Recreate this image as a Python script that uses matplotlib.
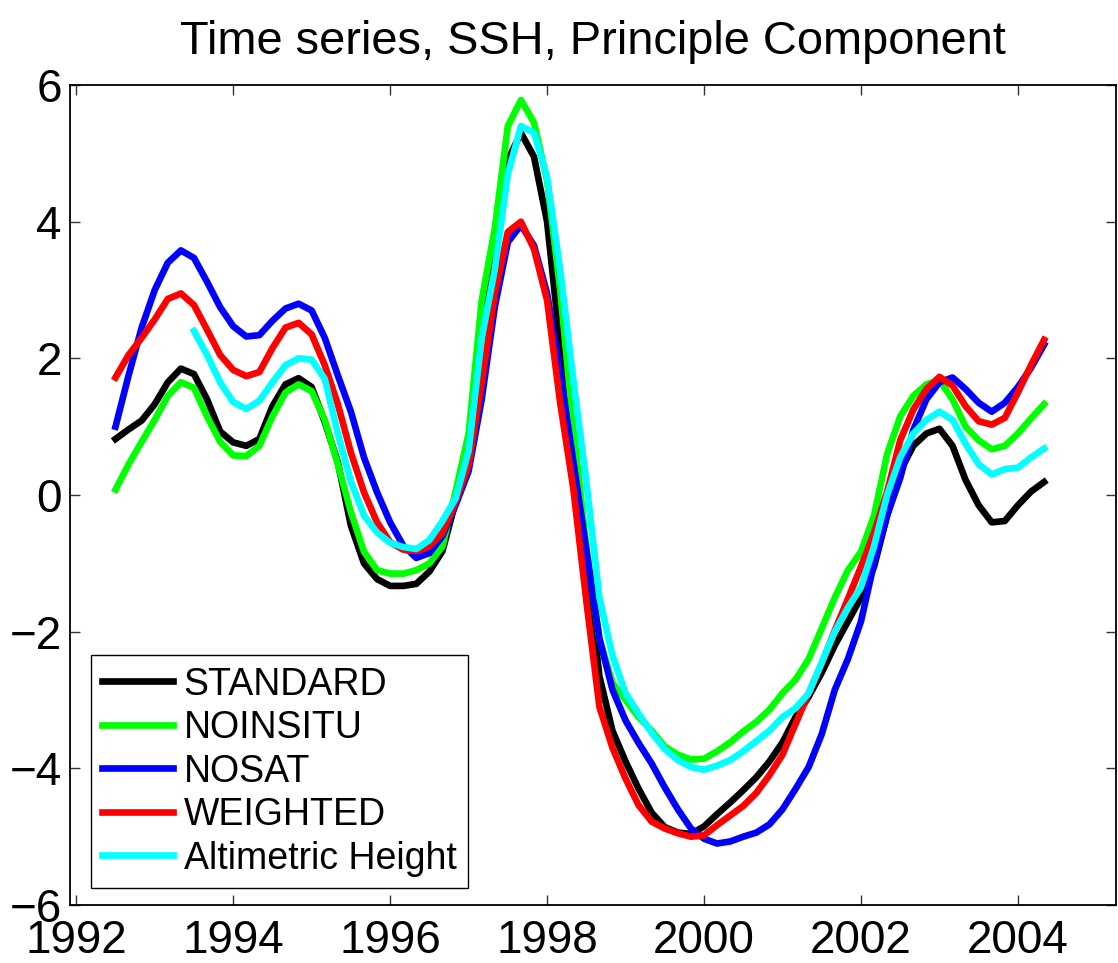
import numpy as np
import matplotlib
matplotlib.use("Agg")
import matplotlib.pyplot as plt

# time axis: two-month steps from mid 1992 to spring 2004
years = 1992.5 + np.arange(72) / 6.0

standard = [0.82, 0.96, 1.09, 1.33, 1.65, 1.85, 1.77, 1.40, 0.93, 0.77, 0.72, 0.82,
            1.30, 1.62, 1.71, 1.58, 1.07, 0.48, -0.45, -1.0, -1.23, -1.33, -1.33, -1.30,
            -1.12, -0.82, -0.1, 0.7, 2.5, 3.6, 4.9, 5.3, 4.95, 4.0, 2.2, 0.7,
            -0.97, -2.65, -3.45, -3.9, -4.3, -4.65, -4.86, -4.94, -4.96, -4.85, -4.67, -4.5,
            -4.32, -4.13, -3.9, -3.62, -3.25, -2.95, -2.6, -2.2, -1.85, -1.5, -1.05, -0.3,
            0.35, 0.72, 0.9, 0.97, 0.72, 0.22, -0.15, -0.4, -0.38, -0.15, 0.05, 0.19]

noinsitu = [0.08, 0.45, 0.78, 1.1, 1.45, 1.65, 1.57, 1.15, 0.78, 0.58, 0.57, 0.72,
            1.15, 1.5, 1.62, 1.52, 1.1, 0.45, -0.25, -0.83, -1.1, -1.15, -1.15, -1.1,
            -1.0, -0.75, 0.05, 0.9, 2.85, 3.9, 5.4, 5.78, 5.45, 4.6, 3.0, 1.0,
            -0.75, -2.1, -2.75, -3.0, -3.25, -3.45, -3.68, -3.8, -3.87, -3.86, -3.75, -3.62,
            -3.46, -3.32, -3.14, -2.9, -2.7, -2.4, -1.95, -1.5, -1.1, -0.83, -0.3, 0.6,
            1.15, 1.45, 1.62, 1.68, 1.4, 1.0, 0.8, 0.67, 0.72, 0.9, 1.12, 1.33]

nosat = [1.0, 1.75, 2.45, 3.0, 3.4, 3.58, 3.47, 3.12, 2.75, 2.47, 2.32, 2.34,
         2.55, 2.73, 2.8, 2.7, 2.3, 1.75, 1.22, 0.55, 0.04, -0.4, -0.74, -0.92,
         -0.85, -0.6, -0.15, 0.35, 1.4, 2.75, 3.7, 3.95, 3.65, 2.95, 1.8, 0.5,
         -0.8, -2.1, -2.85, -3.3, -3.63, -3.93, -4.28, -4.6, -4.88, -5.03, -5.1, -5.07,
         -5.0, -4.94, -4.82, -4.6, -4.3, -3.98, -3.5, -2.85, -2.4, -1.85, -1.0, -0.3,
         0.25, 0.95, 1.4, 1.65, 1.72, 1.55, 1.35, 1.22, 1.35, 1.58, 1.86, 2.2]

weighted = [1.72, 2.05, 2.3, 2.57, 2.87, 2.95, 2.78, 2.42, 2.05, 1.83, 1.74, 1.8,
            2.15, 2.45, 2.52, 2.35, 1.9, 1.33, 0.62, 0.04, -0.4, -0.69, -0.8, -0.82,
            -0.75, -0.55, -0.1, 0.45, 1.65, 2.95, 3.85, 4.0, 3.6, 2.85, 1.35, 0.1,
            -1.55, -3.1, -3.7, -4.15, -4.54, -4.78, -4.88, -4.95, -5.0, -4.98, -4.83, -4.69,
            -4.55, -4.36, -4.1, -3.8, -3.35, -2.9, -2.47, -1.98, -1.52, -1.05, -0.55, 0.05,
            0.8, 1.25, 1.55, 1.73, 1.6, 1.3, 1.08, 1.03, 1.13, 1.5, 1.9, 2.27]

altimetric = [np.nan, np.nan, np.nan, np.nan, np.nan, np.nan, 2.4, 2.05, 1.65, 1.36, 1.26, 1.38,
              1.65, 1.9, 2.0, 1.98, 1.7, 0.9, 0.2, -0.3, -0.55, -0.7, -0.76, -0.79,
              -0.66, -0.38, -0.05, 0.65, 2.3, 3.3, 4.7, 5.4, 5.3, 4.65, 3.3, 1.69,
              0.2, -1.5, -2.35, -2.9, -3.2, -3.48, -3.72, -3.88, -3.98, -4.02, -3.96, -3.88,
              -3.75, -3.6, -3.45, -3.25, -3.12, -2.9, -2.45, -2.0, -1.65, -1.35, -0.75, 0.0,
              0.55, 0.9, 1.1, 1.22, 1.1, 0.75, 0.45, 0.3, 0.38, 0.4, 0.55, 0.68]

labels = ['STANDARD', 'NOINSITU', 'NOSAT', 'WEIGHTED', 'Altimetric Height']
colors = ['#000000', '#00ff00', '#0000ff', '#ff0000', '#00ffff']

plt.rcParams['font.family'] = ['Liberation Sans', 'DejaVu Sans']

fig = plt.figure(figsize=(11.18, 9.63), dpi=100)
ax = fig.add_axes([0.0626, 0.0602, 0.9356, 0.8515])

for series, lab, col in zip([standard, noinsitu, nosat, weighted, altimetric], labels, colors):
    ax.plot(years, series, color=col, linewidth=4.8, label=lab, solid_joinstyle='round')

ax.set_xlim(1991.92, 2005.25)
ax.set_ylim(-6, 6)
ax.set_xticks([1992, 1994, 1996, 1998, 2000, 2002, 2004])
ax.set_yticks([-6, -4, -2, 0, 2, 4, 6])
ax.tick_params(direction='in', length=7.5, width=1, top=True, right=True,
               labelsize=33, color='#333333')
ax.tick_params(axis='x', pad=10)
ax.tick_params(axis='y', pad=6)
for sp in ax.spines.values():
    sp.set_linewidth(1.3)

ax.set_title('Time series, SSH, Principle Component', fontsize=33.8, pad=22)

leg = ax.legend(loc='lower left', bbox_to_anchor=(0.02, 0.021), borderaxespad=0,
                fontsize=27, handlelength=1.9, labelspacing=0.2, fancybox=False,
                framealpha=1, edgecolor='black', borderpad=0.3, handletextpad=0.27)
leg.get_frame().set_linewidth(1.0)

fig.savefig('out.png', dpi=100)
